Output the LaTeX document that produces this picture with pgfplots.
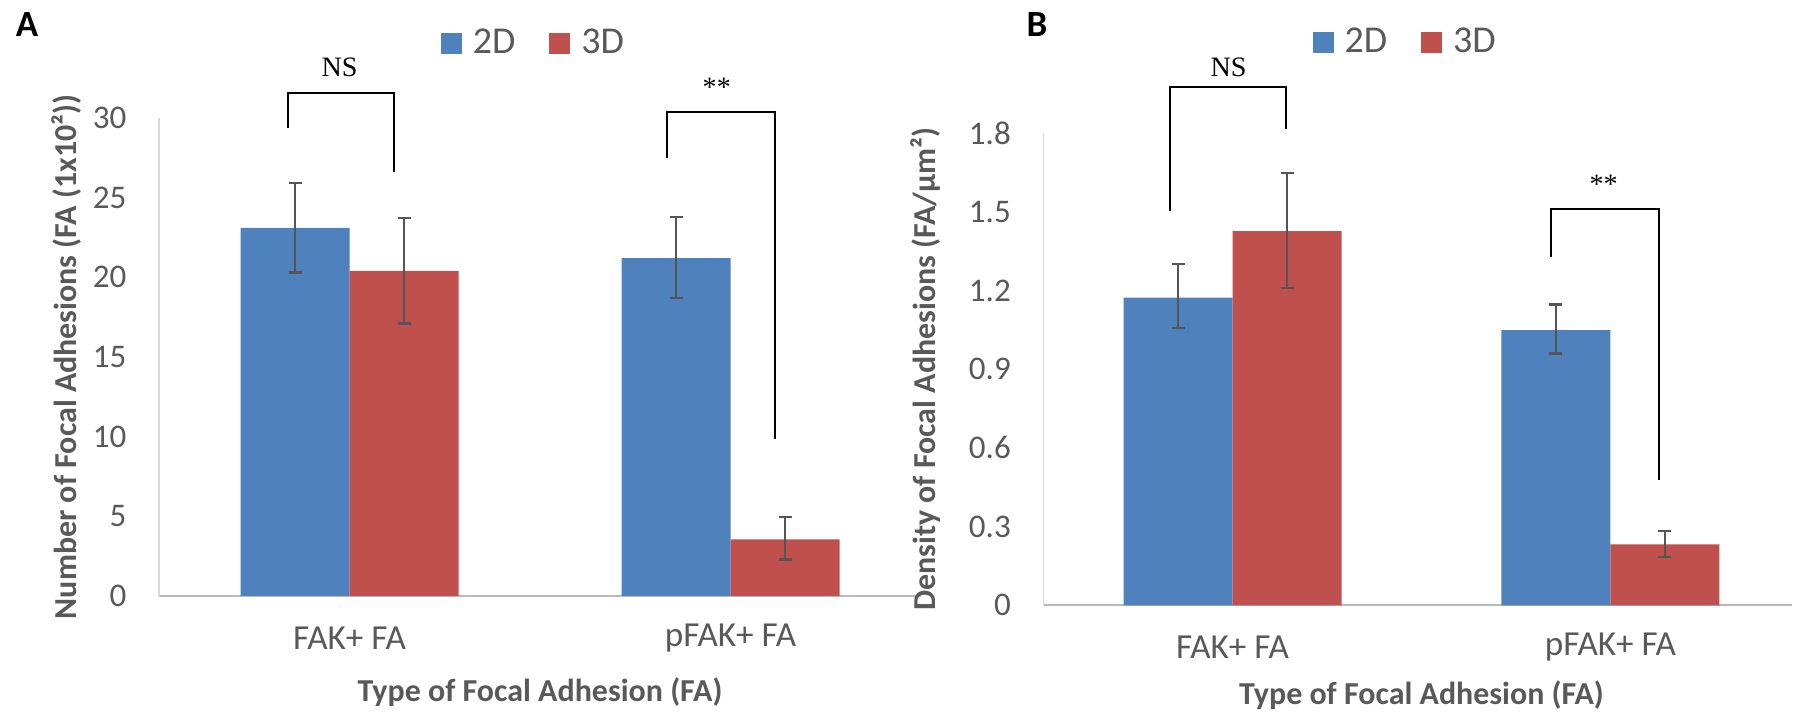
\documentclass[border=0pt]{standalone}
\usepackage{pgfplots}
\pgfplotsset{compat=1.18}
\usepackage{fontspec}
\setmainfont{Carlito}
\newfontfamily\nsfont{Liberation Serif}
\definecolor{barblue}{RGB}{79,129,189}
\definecolor{barred}{RGB}{192,80,77}
\definecolor{txtgray}{RGB}{89,89,89}
\definecolor{errgray}{RGB}{85,85,85}
\pgfplotsset{
  sq legend/.style={legend image code/.code={\fill[##1] (0mm,-1.05mm) rectangle (2.1mm,1.05mm);}},
  myaxis/.style={
    scale only axis, clip=false,
    ybar=0pt, bar width=10.9mm,
    axis x line*=bottom, axis y line*=left,
    x axis line style={draw=black!28, line width=0.18mm, -},
    y axis line style={draw=black!15, line width=0.15mm, -},
    major tick length=0pt,
    xmin=-0.5, ymin=0,
    xtick={0,1}, xticklabels={FAK+ FA, pFAK+ FA},
    xticklabel style={anchor=center, yshift=-4.2mm, font=\fontsize{10}{11}\selectfont, text=txtgray},
    yticklabel style={anchor=east, inner sep=0pt, xshift=-3.2mm, font=\fontsize{9.4}{11}\selectfont, text=txtgray},
    label style={font=\bfseries\fontsize{9.1}{11}\selectfont, text=txtgray},
    legend columns=2,
    legend style={draw=none, fill=none, anchor=center, font=\fontsize{10.8}{12}\selectfont, text=txtgray,
      nodes={inner sep=0pt}, column sep=1.1mm, /tikz/every even column/.append style={column sep=3.4mm}},
    error bars/y dir=both, error bars/y explicit,
    error bars/error bar style={errgray, line width=0.22mm},
    error bars/error mark options={errgray, line width=0.22mm, mark size=0.65mm, rotate=90},
  },
}
\begin{document}
\begin{tikzpicture}
\useasboundingbox (0,0) rectangle (179.3mm,71.2mm);
% Panel A
\begin{axis}[myaxis, at={(15.9mm,11.62mm)}, anchor=south west,
  width=76.2mm, height=47.78mm, xmax=1.5, ymax=30,
  ytick={0,5,10,15,20,25,30}, yticklabels={0,5,10,15,20,25,30},
  ylabel={Number of Focal Adhesions (FA (1x10²))},
  ylabel style={at={(rel axis cs:-0.122,0.5)}, anchor=center},
  xlabel={Type of Focal Adhesion (FA)},
  xlabel style={at={(rel axis cs:0.5,-0.2024)}, anchor=center},
  legend style={at={(0.49,1.155)}}]
\addplot[fill=barblue, draw=none, sq legend] coordinates {(0,23.1) += (0,2.8) -= (0,2.8) (1,21.2) += (0,2.6) -= (0,2.5)};
\addplot[fill=barred, draw=none, sq legend] coordinates {(0,20.4) += (0,3.3) -= (0,3.3) (1,3.55) += (0,1.4) -= (0,1.27)};
\legend{2D,3D}
\draw[black, line width=0.2mm] (axis cs:-0.161,29.4) |- (axis cs:0.117,31.6) -- (axis cs:0.117,26.6);
\draw[black, line width=0.2mm] (axis cs:0.834,27.5) |- (axis cs:1.117,30.4) -- (axis cs:1.117,9.84);
\node[font=\nsfont\fontsize{8}{9}\selectfont] at (axis cs:-0.026,33.2) {NS};
\node[font=\nsfont\fontsize{8}{9}\selectfont] at (axis cs:0.964,31.9) {**};
\node[font=\bfseries\fontsize{10.5}{12}\selectfont] at (rel axis cs:-0.173,1.195) {A};
\end{axis}
% Panel B
\begin{axis}[myaxis, at={(104.35mm,10.67mm)}, anchor=south west,
  width=74.84mm, height=47.22mm, xmax=1.48, ymax=1.8,
  ytick={0,0.3,0.6,0.9,1.2,1.5,1.8}, yticklabels={0,0.3,0.6,0.9,1.2,1.5,1.8},
  ylabel={Density of Focal Adhesions (FA/µm²)},
  ylabel style={at={(rel axis cs:-0.1577,0.5)}, anchor=center},
  xlabel={Type of Focal Adhesion (FA)},
  xlabel style={at={(rel axis cs:0.505,-0.1895)}, anchor=center},
  legend style={at={(0.482,1.191)}}]
\addplot[fill=barblue, draw=none, sq legend] coordinates {(0,1.173) += (0,0.127) -= (0,0.116) (1,1.049) += (0,0.098) -= (0,0.089)};
\addplot[fill=barred, draw=none, sq legend] coordinates {(0,1.426) += (0,0.223) -= (0,0.216) (1,0.232) += (0,0.052) -= (0,0.047)};
\legend{2D,3D}
\draw[black, line width=0.2mm] (axis cs:-0.166,1.502) |- (axis cs:0.142,1.975) -- (axis cs:0.142,1.814);
\draw[black, line width=0.2mm] (axis cs:0.843,1.326) |- (axis cs:1.129,1.511) -- (axis cs:1.129,0.478);
\node[font=\nsfont\fontsize{8}{9}\selectfont] at (axis cs:-0.0105,2.05) {NS};
\node[font=\nsfont\fontsize{8}{9}\selectfont] at (axis cs:0.982,1.606) {**};
\node[font=\bfseries\fontsize{10.5}{12}\selectfont] at (rel axis cs:-0.0087,1.229) {B};
\end{axis}
\end{tikzpicture}
\end{document}
